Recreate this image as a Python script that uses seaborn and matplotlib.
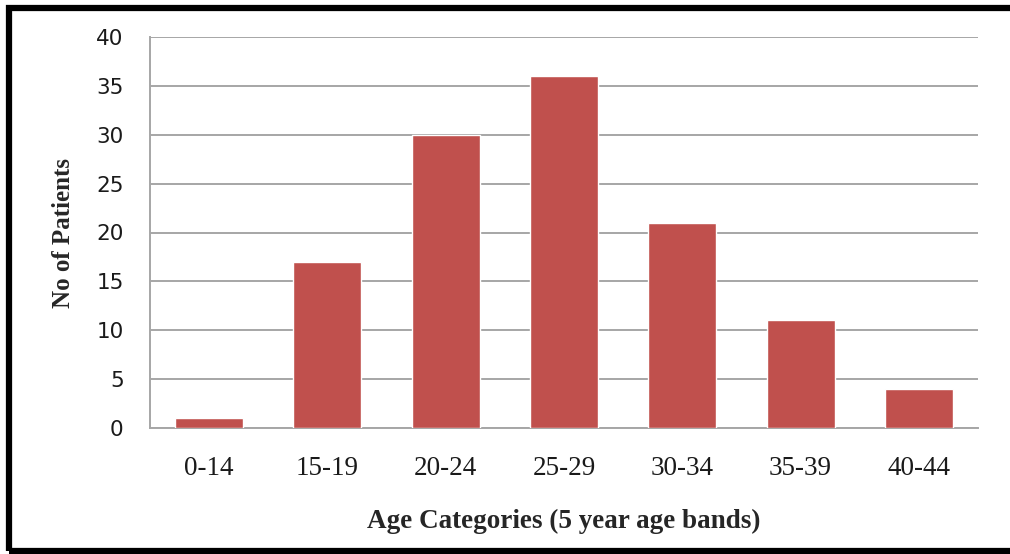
import matplotlib
matplotlib.use("Agg")
import matplotlib.pyplot as plt
from matplotlib.patches import Rectangle
import pandas as pd
import seaborn as sns

# Patient counts by five-year age band
age_bands = ["0-14", "15-19", "20-24", "25-29", "30-34", "35-39", "40-44"]
patients = [1, 17, 30, 36, 21, 11, 4]
y_ticks = [0, 5, 10, 15, 20, 25, 30, 35, 40]

sns.set_style("white")
df = pd.DataFrame({"band": age_bands, "count": patients})

W, H = 1010, 554
fig = plt.figure(figsize=(W / 100, H / 100), dpi=100)
ax = fig.add_axes([150 / W, 1 - 428 / H, (978 - 150) / W, (428 - 37) / H])

sns.barplot(data=df, x="band", y="count", color="#C0504D", saturation=1,
            width=0.575, ax=ax, zorder=3)

ax.set_ylim(0, 40)
ax.set_yticks(y_ticks)
ax.set_xlim(-0.5, len(age_bands) - 0.5)
ax.yaxis.grid(True, color="#a6a6a6", linewidth=1.4, zorder=0)
ax.set_axisbelow(True)
for side in ("top", "right"):
    ax.spines[side].set_visible(False)
for side in ("left", "bottom"):
    ax.spines[side].set_color("#a6a6a6")
    ax.spines[side].set_linewidth(1.4)
ax.tick_params(axis="both", length=0)
ax.tick_params(axis="y", pad=19)
ax.tick_params(axis="x", pad=20)
for lbl in ax.get_yticklabels():
    lbl.set_fontfamily("DejaVu Sans")
    lbl.set_fontsize(15.5)
    lbl.set_color("#1a1a1a")
for lbl in ax.get_xticklabels():
    lbl.set_fontfamily("Liberation Serif")
    lbl.set_fontsize(19.5)
    lbl.set_color("#1a1a1a")

ax.set_xlabel("Age Categories (5 year age bands)", fontfamily="Liberation Serif",
              fontweight="bold", fontsize=19.5, labelpad=20)
ax.set_ylabel("No of Patients", fontfamily="Liberation Serif",
              fontweight="bold", fontsize=18, labelpad=15)

# thick black frame around the figure
frame = Rectangle((9 / W, 3 / H), 1.05, 1 - 11 / H, transform=fig.transFigure,
                  fill=False, edgecolor="black", linewidth=4.5)
fig.add_artist(frame)

fig.savefig("out.png", dpi=100)
